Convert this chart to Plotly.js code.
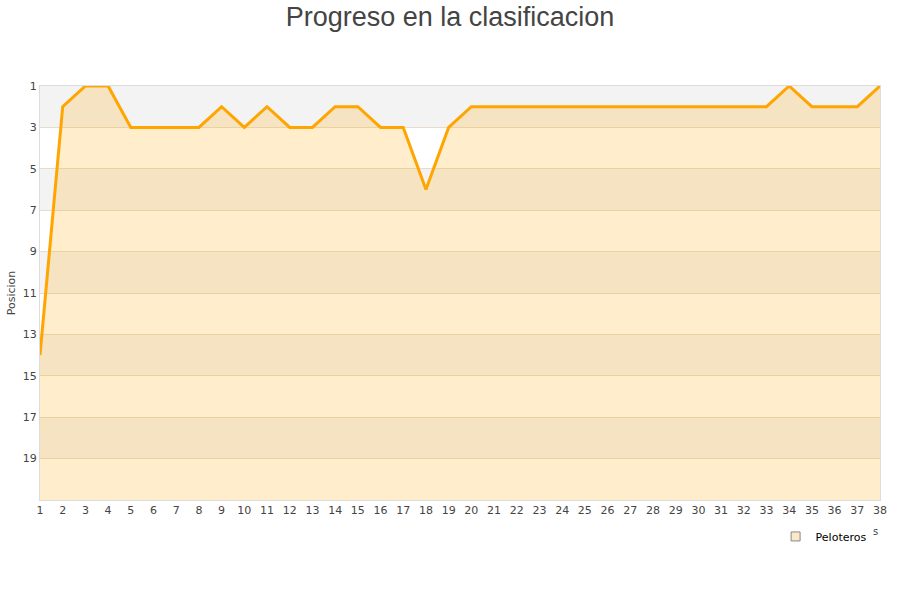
<!DOCTYPE html>
<html>
<head>
<meta charset="utf-8">
<script src="https://cdn.plot.ly/plotly-3.0.1.min.js"></script>
<style>html,body{margin:0;padding:0;background:#fff}#chart{width:900px;height:600px}</style>
</head>
<body>
<div id="chart"></div>
<script>
var jornadas = [1,2,3,4,5,6,7,8,9,10,11,12,13,14,15,16,17,18,19,20,21,22,23,24,25,26,27,28,29,30,31,32,33,34,35,36,37,38];
var posiciones = [14,2,1,1,3,3,3,3,2,3,2,3,3,2,2,3,3,6,3,2,2,2,2,2,2,2,2,2,2,2,2,2,2,1,2,2,2,1];
var yTicks = [1,3,5,7,9,11,13,15,17,19];
var serieNombre = "Peloteros";
var fondoPosicion = 21;

var base = jornadas.map(function(){ return fondoPosicion; });

var shapes = [];
for (var i = 0; i < yTicks.length; i += 2) {
  shapes.push({type:'rect', xref:'paper', yref:'y', x0:0, x1:1, y0:yTicks[i], y1:yTicks[i]+2,
    fillcolor:'#f3f3f3', line:{width:0}, layer:'below'});
}

var traces = [
  {x: jornadas, y: base, mode:'lines', line:{width:0, color:'rgba(0,0,0,0)'}, showlegend:false, hoverinfo:'skip'},
  {x: jornadas, y: posiciones, mode:'lines', fill:'tonexty', fillcolor:'rgba(255,165,0,0.2)',
   line:{color:'#ffa500', width:3}, showlegend:false, name: serieNombre},
  {x:[null], y:[null], mode:'markers', name: serieNombre,
   marker:{symbol:'square', size:9, color:'#fbe8c8', line:{color:'#888', width:1}}}
];

var layout = {
  width:900, height:600,
  margin:{l:40, r:20, t:86, b:100},
  paper_bgcolor:'#fff', plot_bgcolor:'#fff',
  font:{family:'DejaVu Sans, sans-serif', size:11, color:'#444'},
  title:{text:'Progreso en la clasificacion', x:0.5, xanchor:'center', y:0.972, yanchor:'middle',
    font:{family:'Liberation Sans, Arial, sans-serif', size:27, color:'#444'}},
  xaxis:{range:[1,38], tickvals: jornadas, ticktext: jornadas.map(String), showgrid:false, zeroline:false,
    showline:true, mirror:true, linecolor:'#dcdcdc', linewidth:1, ticks:'', tickfont:{size:11, color:'#444'}, fixedrange:true},
  yaxis:{range:[fondoPosicion,1], tickvals: yTicks, ticktext: yTicks.map(String), showgrid:true, gridcolor:'#e6dcc8',
    zeroline:false, showline:true, mirror:true, linecolor:'#dcdcdc', linewidth:1, ticks:'',
    tickfont:{size:11, color:'#444'},
    title:{text:'Posicion', font:{size:11, color:'#444'}, standoff:4}},
  shapes: shapes,
  showlegend:true,
  legend:{orientation:'h', x:0.99, xanchor:'right', y:-0.053, yanchor:'top', bgcolor:'rgba(255,255,255,0)',
    font:{size:11, color:'#000'}},
  annotations:[{text:'s', xref:'paper', yref:'paper', x:0.995, y:-0.075, xanchor:'center', yanchor:'middle', showarrow:false,
    font:{size:10, color:'#444'}}]
};

Plotly.newPlot('chart', traces, layout, {displayModeBar:false, staticPlot:true});
</script>
</body>
</html>
